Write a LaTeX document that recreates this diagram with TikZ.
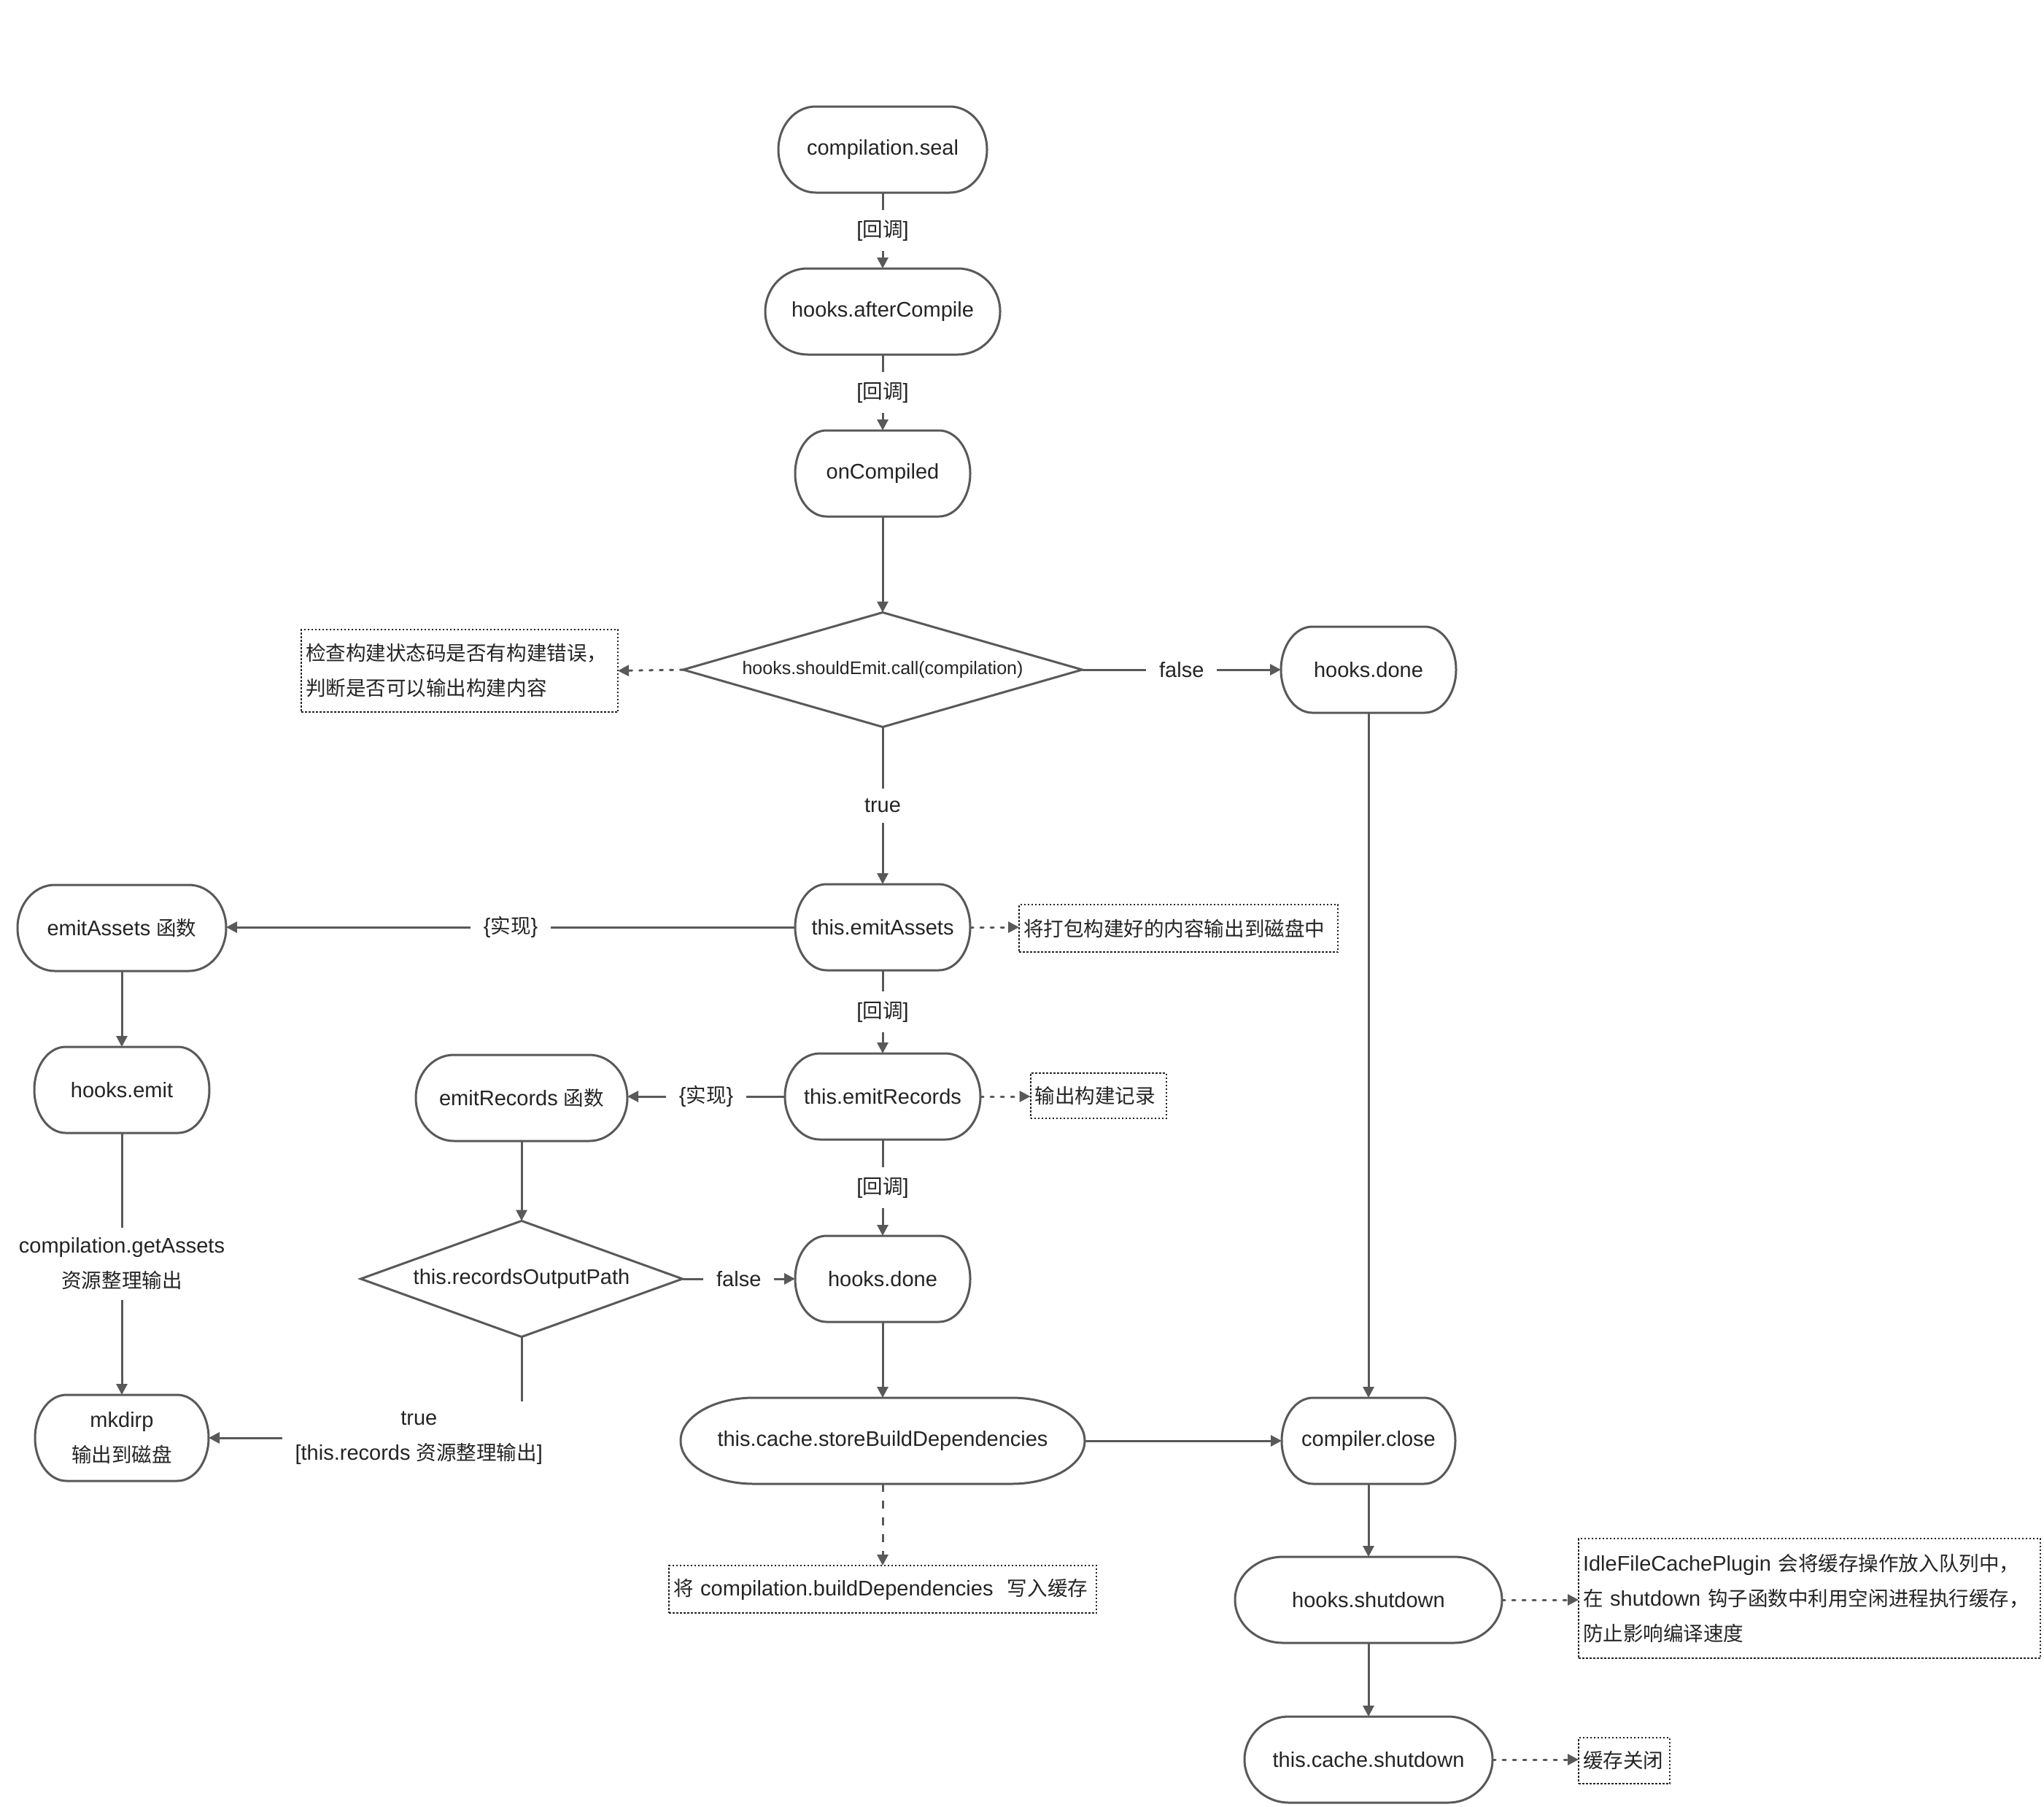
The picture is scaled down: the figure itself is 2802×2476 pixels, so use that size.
\documentclass[tikz,border=0pt]{standalone}
\usepackage{fontspec}
\setmainfont{Liberation Sans}
\newfontfamily\cjkfont[Scale=0.95]{Noto Sans CJK SC}
\newcommand\zhtxt[1]{{\cjkfont #1}}
\usetikzlibrary{arrows.meta,shapes.geometric,calc}
\definecolor{lc}{HTML}{595959}
\definecolor{tc}{HTML}{242424}
\newcommand\termshape[2]{%
 \draw[nodeline] ($(#1.north west)+(#2pt,0pt)$) -- ($(#1.north east)+(-#2pt,0pt)$)
   arc[start angle=90,end angle=-90,x radius=#2pt,y radius=59pt]
   -- ($(#1.south west)+(#2pt,0pt)$)
   arc[start angle=270,end angle=90,x radius=#2pt,y radius=59pt] -- cycle;}
\tikzset{
 base/.style={font=\fontsize{29pt}{48pt}\selectfont, text=tc},
 term/.style={base, shape=rectangle, minimum height=118pt, inner sep=0pt, outer sep=0pt, align=center},
 dia/.style={base, diamond, draw=lc, line width=3pt, inner sep=0pt, outer sep=0pt},
 note/.style={base, draw=tc, line width=2pt, dash pattern=on 2.5pt off 2.5pt, inner xsep=6pt, inner ysep=0pt, outer sep=0pt, align=left},
 nodeline/.style={draw=lc, line width=3pt},
 conn/.style={draw=lc, line width=3pt, -{Triangle[length=15pt,width=15pt]}},
 dotconn/.style={conn, dash pattern=on 4pt off 10pt, line cap=round},
 dashconn/.style={conn, dash pattern=on 11pt off 12pt},
 lbl/.style={base, fill=white, inner xsep=18pt, inner ysep=14pt, align=center},
}
\begin{document}
\begin{tikzpicture}[x=1pt,y=1pt]
\useasboundingbox (0,0) rectangle (2802,-2476);
\fill[white] (0,0) rectangle (2802,-2476);

% nodes
\node[term, minimum width=286pt] (seal) at (1210,-205) {compilation.seal};
\node[term, minimum width=322pt] (after) at (1210,-427) {hooks.afterCompile};
\node[term, minimum width=240pt] (onc) at (1210,-649) {onCompiled};
\node[dia, minimum width=547pt, minimum height=157pt, aspect=3.5, font=\fontsize{25pt}{30pt}\selectfont] (d1) at (1210,-918) {hooks.shouldEmit.call(compilation)};
\node[note, minimum width=434pt, text width=422pt, minimum height=113pt] (n1) at (630,-919.5) {\zhtxt{检查构建状态码是否有构建错误，}\\\zhtxt{判断是否可以输出构建内容}};
\node[term, minimum width=240pt] (done1) at (1876,-918) {hooks.done};
\node[term, minimum width=240pt] (ea) at (1210,-1271) {this.emitAssets};
\node[note, minimum width=437pt, text width=425pt, minimum height=65pt] (n2) at (1615.5,-1272.5) {\zhtxt{将打包构建好的内容输出到磁盘中}};
\node[term, minimum width=286pt] (eaf) at (167,-1272) {emitAssets \zhtxt{函数}};
\node[term, minimum width=268pt] (er) at (1210,-1503) {this.emitRecords};
\node[note, minimum width=186pt, text width=174pt, minimum height=62pt] (n3) at (1505.5,-1502) {\zhtxt{输出构建记录}};
\node[term, minimum width=290pt] (erf) at (715,-1505) {emitRecords \zhtxt{函数}};
\node[term, minimum width=240pt] (emit) at (167,-1494) {hooks.emit};
\node[dia, minimum width=441pt, minimum height=159pt, aspect=2.77] (d2) at (715,-1753) {this.recordsOutputPath};
\node[term, minimum width=240pt] (done2) at (1210,-1753) {hooks.done};
\node[term, minimum width=238pt] (mk) at (167,-1971) {mkdirp\\\zhtxt{输出到磁盘}};
\node[term, minimum width=554pt] (sbd) at (1210,-1975) {this.cache.storeBuildDependencies};
\node[term, minimum width=238pt] (close) at (1876,-1975) {compiler.close};
\node[note, minimum width=586pt, text width=574pt, minimum height=65pt] (n4) at (1210,-2178.5) {\zhtxt{将} compilation.buildDependencies\ \ \zhtxt{写入缓存}};
\node[term, minimum width=366pt] (shut) at (1876,-2193) {hooks.shutdown};
\node[note, minimum width=633pt, text width=621pt, minimum height=164pt] (n5) at (2480.5,-2191) {IdleFileCachePlugin \zhtxt{会将缓存操作放入队列中，}\\\zhtxt{在} shutdown \zhtxt{钩子函数中利用空闲进程执行缓存，}\\\zhtxt{防止影响编译速度}};
\node[term, minimum width=340pt] (cshut) at (1876,-2412) {this.cache.shutdown};
\node[note, minimum width=125pt, text width=113pt, minimum height=63pt] (n6) at (2226.5,-2413.5) {\zhtxt{缓存关闭}};

% terminal outlines
\termshape{seal}{51}
\termshape{after}{58}
\termshape{onc}{43}
\termshape{done1}{43}
\termshape{ea}{43}
\termshape{eaf}{51}
\termshape{er}{48}
\termshape{erf}{52}
\termshape{emit}{43}
\termshape{done2}{43}
\termshape{mk}{43}
\termshape{sbd}{100}
\termshape{close}{43}
\termshape{shut}{66}
\termshape{cshut}{61}

% connectors
\draw[conn] (seal.south) -- node[lbl]{[\zhtxt{回调}]} (after.north);
\draw[conn] (after.south) -- node[lbl]{[\zhtxt{回调}]} (onc.north);
\draw[conn] (onc.south) -- (d1.north);
\draw[dotconn] (d1.west) -- (n1.east);
\draw[conn] (d1.east) -- node[lbl]{false} (done1.west);
\draw[conn] (d1.south) -- node[lbl]{true} (ea.north);
\draw[conn] (ea.west) -- node[lbl]{\{\zhtxt{实现}\}} (ea.west -| eaf.east);
\draw[dotconn] (ea.east) -- (ea.east -| n2.west);
\draw[conn] (ea.south) -- node[lbl]{[\zhtxt{回调}]} (er.north);
\draw[conn] (er.west) -- node[lbl]{\{\zhtxt{实现}\}} (er.west -| erf.east);
\draw[dotconn] (er.east) -- (er.east -| n3.west);
\draw[conn] (er.south) -- node[lbl]{[\zhtxt{回调}]} (done2.north);
\draw[conn] (eaf.south) -- (emit.north);
\draw[conn] (emit.south) -- node[lbl]{compilation.getAssets\\\zhtxt{资源整理输出}} (mk.north);
\draw[conn] (erf.south) -- (d2.north);
\draw[conn] (d2.east) -- node[lbl]{false} (done2.west);
\draw[conn] (d2.south) |- node[lbl, pos=0.664]{true\\{}[this.records \zhtxt{资源整理输出}]} (mk.east);
\draw[conn] (done2.south) -- (sbd.north);
\draw[dashconn] (sbd.south) -- (n4.north);
\draw[conn] (sbd.east) -- (close.west);
\draw[conn] (done1.south) -- (close.north);
\draw[conn] (close.south) -- (shut.north);
\draw[dotconn] (shut.east) -- (shut.east -| n5.west);
\draw[conn] (shut.south) -- (cshut.north);
\draw[dotconn] (cshut.east) -- (cshut.east -| n6.west);
\end{tikzpicture}
\end{document}
